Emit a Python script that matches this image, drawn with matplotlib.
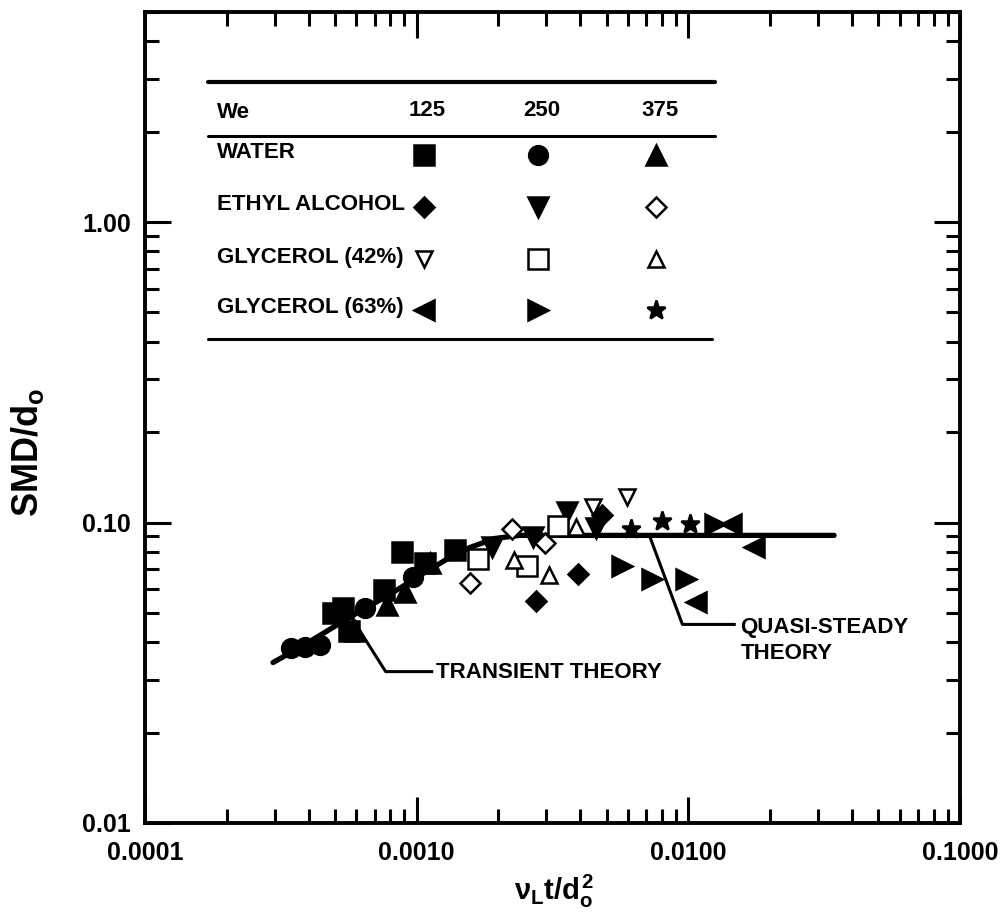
import matplotlib
matplotlib.use("Agg")
import matplotlib.pyplot as plt
from matplotlib.ticker import FixedLocator, FixedFormatter, NullFormatter

plt.rcParams['font.family'] = ['Liberation Sans', 'DejaVu Sans']
plt.rcParams['font.weight'] = 'bold'
plt.rcParams['axes.labelweight'] = 'bold'
plt.rcParams['mathtext.fontset'] = 'custom'
plt.rcParams['mathtext.rm'] = 'Liberation Sans:bold'
plt.rcParams['mathtext.it'] = 'Liberation Sans:bold'
plt.rcParams['mathtext.bf'] = 'Liberation Sans:bold'
plt.rcParams['mathtext.sf'] = 'Liberation Sans:bold'

# ---- measured drop sizes, SMD/d0 vs nu_L t / d0^2 ----
WATER_125_X = [4.91e-4, 5.35e-4, 5.62e-4, 7.56e-4, 8.81e-4, 1.07e-3, 1.38e-3]
WATER_125_Y = [0.0498, 0.0521, 0.0434, 0.0598, 0.0795, 0.0736, 0.0813]
WATER_250_X = [3.44e-4, 3.87e-4, 4.40e-4, 6.44e-4, 9.66e-4]
WATER_250_Y = [0.0381, 0.0384, 0.0390, 0.0521, 0.0661]
WATER_375_X = [5.92e-4, 7.76e-4, 9.04e-4, 1.117e-3]
WATER_375_Y = [0.0434, 0.0530, 0.0589, 0.0736]

ETHYL_125_X = [2.74e-3, 3.91e-3, 4.83e-3]
ETHYL_125_Y = [0.0546, 0.0676, 0.1063]
ETHYL_250_X = [1.90e-3, 2.67e-3, 3.59e-3, 4.59e-3]
ETHYL_250_Y = [0.0832, 0.0898, 0.1088, 0.0962]
ETHYL_375_X = [1.57e-3, 2.25e-3, 2.96e-3]
ETHYL_375_Y = [0.0627, 0.0955, 0.0858]

GLY42_125_X = [4.44e-3, 5.97e-3]
GLY42_125_Y = [0.113, 0.122]
GLY42_250_X = [1.68e-3, 2.54e-3, 3.30e-3]
GLY42_250_Y = [0.0759, 0.0714, 0.0977]
GLY42_375_X = [2.29e-3, 3.06e-3, 3.87e-3]
GLY42_375_Y = [0.0753, 0.0671, 0.0963]

GLY63_125_X = [0.0107, 0.0144, 0.0175]
GLY63_125_Y = [0.0542, 0.0985, 0.0826]
GLY63_250_X = [5.72e-3, 7.38e-3, 9.84e-3, 0.0125]
GLY63_250_Y = [0.0714, 0.0651, 0.0651, 0.0985]
GLY63_375_X = [6.17e-3, 8.02e-3, 0.0101]
GLY63_375_Y = [0.0948, 0.1008, 0.0985]

# transient theory running into the quasi-steady plateau
THEORY_X = [2.96e-4, 3.72e-4, 4.79e-4, 6.17e-4, 7.96e-4, 1.03e-3, 1.27e-3,
            1.57e-3, 1.94e-3, 2.39e-3, 0.0344]
THEORY_Y = [0.0342, 0.0384, 0.0441, 0.0506, 0.0576, 0.0667, 0.0748,
            0.0826, 0.0885, 0.0906, 0.0906]

X_TICKS = [1e-4, 1e-3, 1e-2, 1e-1]
X_TICKLABELS = ['0.0001', '0.0010', '0.0100', '0.1000']
Y_TICKS = [0.01, 0.1, 1.0]
Y_TICKLABELS = ['0.01', '0.10', '1.00']

WE_VALUES = ['125', '250', '375']
FLUIDS = ['WATER', 'ETHYL ALCOHOL', 'GLYCEROL (42%)', 'GLYCEROL (63%)']

# marker style per fluid (rows) and We (columns): (marker, filled, size)
STYLES = [
    [('s', True, 15), ('o', True, 13.5), ('^', True, 14)],
    [('D', True, 10.5), ('v', True, 14), ('D', False, 10.5)],
    [('v', False, 12), ('s', False, 14), ('^', False, 12)],
    [('<', True, 14), ('>', True, 14), ('*', True, 14)],
]
SERIES = [
    [(WATER_125_X, WATER_125_Y), (WATER_250_X, WATER_250_Y), (WATER_375_X, WATER_375_Y)],
    [(ETHYL_125_X, ETHYL_125_Y), (ETHYL_250_X, ETHYL_250_Y), (ETHYL_375_X, ETHYL_375_Y)],
    [(GLY42_125_X, GLY42_125_Y), (GLY42_250_X, GLY42_250_Y), (GLY42_375_X, GLY42_375_Y)],
    [(GLY63_125_X, GLY63_125_Y), (GLY63_250_X, GLY63_250_Y), (GLY63_375_X, GLY63_375_Y)],
]

W, H = 1002, 915
fig = plt.figure(figsize=(W / 100, H / 100), dpi=100)
ax = fig.add_axes([145 / W, (H - 823) / H, 815 / W, 811 / H])


def mstyle(marker, filled, size):
    return dict(marker=marker, markersize=size, linestyle='none',
                markerfacecolor='black' if filled else 'white',
                markeredgecolor='black', markeredgewidth=1.8)


# theory curve
ax.plot(THEORY_X, THEORY_Y, '-', color='black', lw=3.8, solid_capstyle='round', zorder=2)

# data
for i in range(len(FLUIDS)):
    for j in range(len(WE_VALUES)):
        xs, ys = SERIES[i][j]
        ax.plot(xs, ys, zorder=3, **mstyle(*STYLES[i][j]))

# leader lines and labels for the two theories
ax.plot([5.82e-4, 7.69e-4, 1.136e-3], [0.0475, 0.0319, 0.0319], '-', color='black', lw=2.2)
ax.text(1.175e-3, 0.0317, 'TRANSIENT THEORY', fontsize=16, ha='left', va='center')
ax.plot([7.19e-3, 9.51e-3, 0.01476], [0.0905, 0.0458, 0.0458], '-', color='black', lw=2.2)
ax.text(0.01553, 0.0405, 'QUASI-STEADY\nTHEORY', fontsize=16, ha='left', va='center',
        linespacing=1.3)

ax.set_xscale('log')
ax.set_yscale('log')
ax.set_xlim(1e-4, 1e-1)
ax.set_ylim(0.01, 5)
ax.xaxis.set_major_locator(FixedLocator(X_TICKS))
ax.xaxis.set_major_formatter(FixedFormatter(X_TICKLABELS))
ax.yaxis.set_major_locator(FixedLocator(Y_TICKS))
ax.yaxis.set_major_formatter(FixedFormatter(Y_TICKLABELS))
ax.xaxis.set_minor_formatter(NullFormatter())
ax.yaxis.set_minor_formatter(NullFormatter())
ax.tick_params(which='both', direction='in', top=True, right=True, width=2.2, labelsize=18)
ax.tick_params(which='major', length=19)
ax.tick_params(which='minor', length=10)
ax.tick_params(axis='x', pad=13)
ax.tick_params(axis='y', pad=10)
for s in ax.spines.values():
    s.set_linewidth(2.8)

ax.set_xlabel(r'$\nu_L t/d_o^2$', fontsize=21)
ax.xaxis.set_label_coords(0.502, -0.062)
ax.set_ylabel(r'SMD/d$_\mathregular{o}$', fontsize=26, fontweight='bold')
ax.yaxis.set_label_coords(-0.122, 0.457)


# ---- the We / fluid key, laid out in figure pixels from the top-left ----
def fp(x, y):
    return x / W, 1 - y / H


def hline(x0, x1, y, lw):
    (a, b), (c, _) = fp(x0, y), fp(x1, y)
    fig.add_artist(plt.Line2D([a, c], [b, b], color='black', lw=lw, solid_capstyle='round'))


hline(208, 715, 82, 3.0)
hline(208, 715, 136, 2.2)
hline(208, 712, 339, 2.2)

col_x = [427, 542, 660]
row_y = [153, 205, 257, 308]
fig.text(*fp(217, 113), 'We', fontsize=16, ha='left', va='center')
for cx, we in zip(col_x, WE_VALUES):
    fig.text(*fp(cx, 110), we, fontsize=16, ha='center', va='center')
for i, (ry, name) in enumerate(zip(row_y, FLUIDS)):
    fig.text(*fp(217, ry), name, fontsize=16, ha='left', va='center')
    for j, cx in enumerate(col_x):
        mx, my = fp(cx - 3 if j == 0 else cx - 4, ry + 2)
        fig.add_artist(plt.Line2D([mx], [my], **mstyle(*STYLES[i][j])))

fig.savefig('out.png', dpi=100)
